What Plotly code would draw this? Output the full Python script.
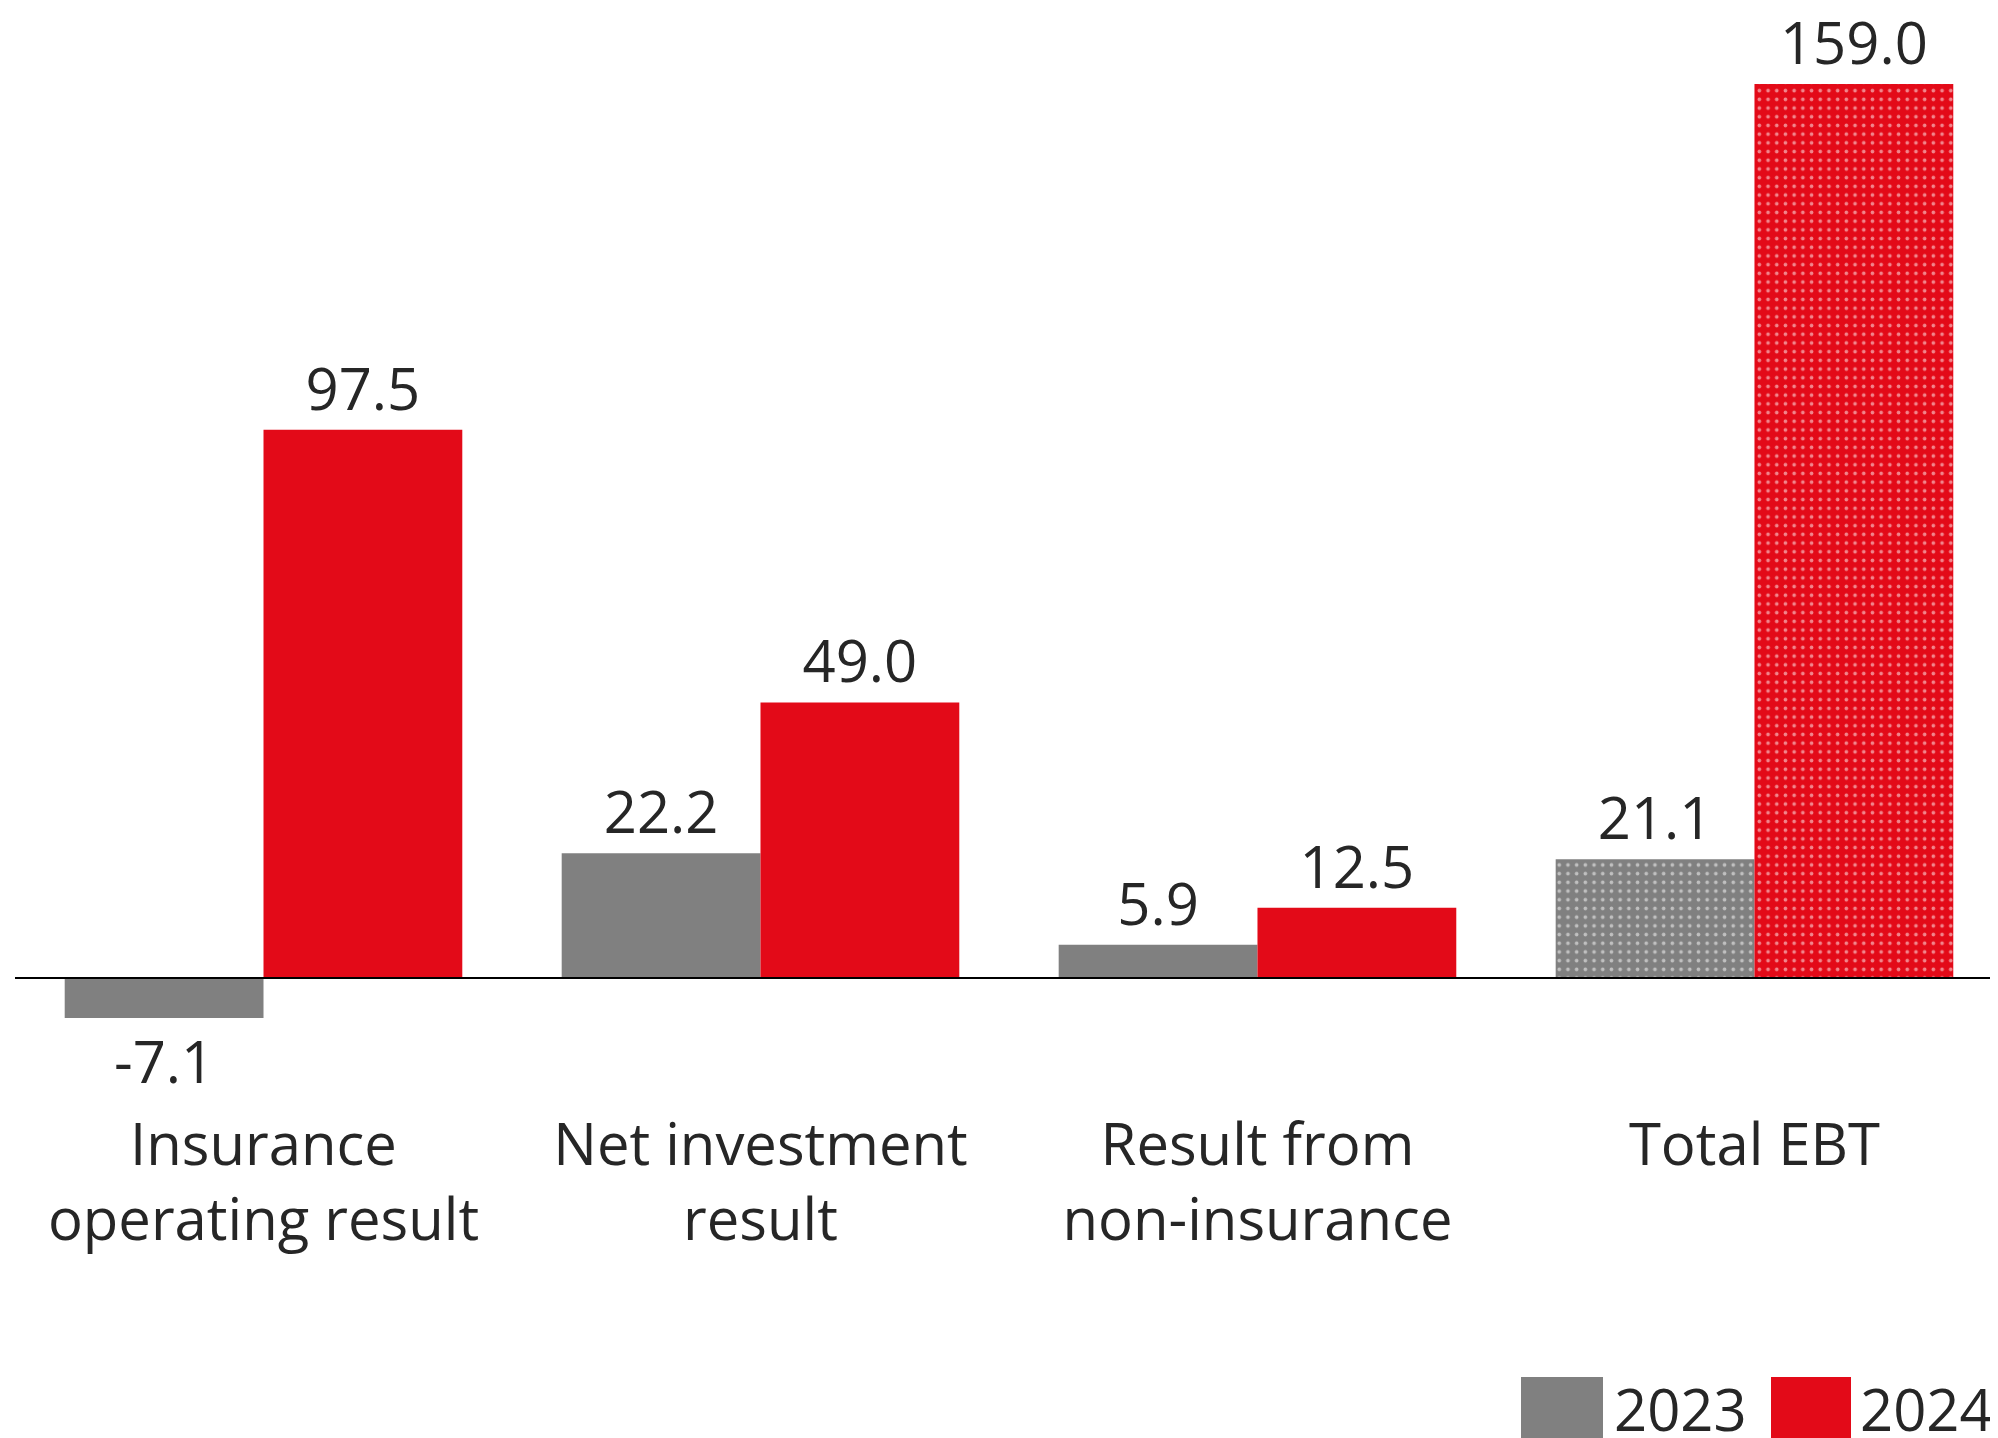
import plotly.graph_objects as go

# data
categories = ["Insurance<br>operating result", "Net investment<br>result",
              "Result from<br>non-insurance", "Total EBT"]
values_2023 = [-7.1, 22.2, 5.9, 21.1]
values_2024 = [97.5, 49.0, 12.5, 159.0]
patterns = ["", "", "", "."]  # total bars are dotted

GREY = "#808080"
RED = "#E30A18"
TXT = "#262626"
FONT = "Open Sans"
FS = 58

# page body has an 8px margin, so the figure is 8px smaller than the window
OFF = 8
W, H = 1998 - OFF, 1438 - OFF
ML, MR, MT, MB = 7, 0, 0, 392
PW, PH = W - ML - MR, H - MT - MB


def px_x(p):
    # screen pixel -> paper x
    return (p - OFF - ML) / PW


def px_y(p):
    # screen pixel -> paper y
    return (PH - (p - OFF - MT)) / PH


def bar(name, vals, color):
    return go.Bar(
        name=name, x=categories, y=vals,
        marker=dict(color=color, line=dict(width=0),
                    pattern=dict(shape=patterns, fgcolor="white",
                                 size=8.7, solidity=0.14)),
        text=[f"{v:.1f}" for v in vals], textposition="outside",
        textfont=dict(family=FONT, size=FS, color=TXT),
        constraintext="none", cliponaxis=False, showlegend=False,
    )


fig = go.Figure([bar("2023", values_2023, GREY), bar("2024", values_2024, RED)])

fig.update_layout(
    width=W, height=H, barmode="group", bargap=0.2, bargroupgap=0,
    margin=dict(l=ML, r=MR, t=MT, b=MB, autoexpand=False),
    paper_bgcolor="white", plot_bgcolor="white",
    font=dict(family=FONT, color=TXT, size=FS),
)
fig.update_xaxes(range=[-0.5, 3.49], showline=False, showgrid=False, ticks="",
                 tickfont=dict(family=FONT, size=FS, color=TXT),
                 ticklabelstandoff=60, automargin=False)
fig.update_yaxes(range=[-12.09, 172.5], visible=False, showgrid=False, zeroline=False)

# baseline at zero, over the bars
fig.add_shape(type="line", xref="paper", yref="y", x0=0, x1=1, y0=0, y1=0,
              line=dict(color="black", width=2))

# legend drawn by hand so the swatches can be big
for name, color, x0, x1, tx in [("2023", GREY, 1521, 1603, 1612),
                                ("2024", RED, 1771, 1851, 1858)]:
    fig.add_shape(type="rect", xref="paper", yref="paper",
                  x0=px_x(x0), x1=px_x(x1), y0=px_y(1377), y1=px_y(1440),
                  fillcolor=color, line=dict(width=0))
    fig.add_annotation(text=name, xref="paper", yref="paper", x=px_x(tx),
                       y=px_y(1408), xanchor="left", yanchor="middle",
                       showarrow=False, font=dict(family=FONT, size=FS, color=TXT))

fig.write_html("out.html")
